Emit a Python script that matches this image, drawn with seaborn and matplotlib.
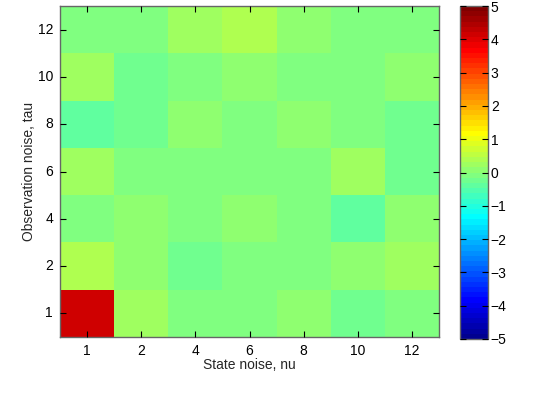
import numpy as np
import pandas as pd
import matplotlib
matplotlib.use("Agg")
import matplotlib.pyplot as plt
import seaborn as sns
from matplotlib.colors import ListedColormap

# ---- data ----
state_noise = [1, 2, 4, 6, 8, 10, 12]        # x (nu)
obs_noise = [1, 2, 4, 6, 8, 10, 12]          # y (tau), bottom -> top
row_tau1 = [4.14, 0.23, -0.08, -0.08, 0.08, -0.23, -0.08]
row_tau2 = [0.39, 0.08, -0.23, -0.08, -0.08, 0.08, 0.23]
row_tau4 = [-0.08, 0.08, -0.08, 0.08, -0.08, -0.39, 0.08]
row_tau6 = [0.23, -0.08, -0.08, -0.08, -0.08, 0.23, -0.23]
row_tau8 = [-0.39, -0.23, 0.08, -0.08, 0.08, -0.08, -0.23]
row_tau10 = [0.23, -0.23, -0.08, 0.08, -0.08, -0.08, 0.08]
row_tau12 = [-0.08, -0.08, 0.23, 0.39, 0.08, -0.08, -0.08]
cbar_ticks = [-5, -4, -3, -2, -1, 0, 1, 2, 3, 4, 5]


def matlab_jet(m=64):
    n = int(np.ceil(m / 4))
    u = np.concatenate([np.arange(1, n + 1) / n, np.ones(n - 1), np.arange(n, 0, -1) / n])
    g = int(np.ceil(n / 2)) - (1 if m % 4 == 1 else 0) + np.arange(1, len(u) + 1)
    r = g + n
    b = g - n
    g = g[g <= m]
    r = r[r <= m]
    b = b[b >= 1]
    J = np.zeros((m, 3))
    J[r - 1, 0] = u[:len(r)]
    J[g - 1, 1] = u[:len(g)]
    J[b - 1, 2] = u[len(u) - len(b):]
    return ListedColormap(J)


df = pd.DataFrame([row_tau1, row_tau2, row_tau4, row_tau6, row_tau8, row_tau10, row_tau12],
                  index=obs_noise, columns=state_noise)

sns.set_style("white")
plt.rcParams["font.family"] = ["Liberation Sans", "DejaVu Sans"]

fig = plt.figure(figsize=(5.52, 4.05), dpi=100)
W, H = 552, 405
ax = fig.add_axes([60 / W, (H - 337) / H, 379 / W, 331 / H])
cax = fig.add_axes([460 / W, (H - 339) / H, 28 / W, 333 / H])

sns.heatmap(df, ax=ax, cmap=matlab_jet(64), vmin=-5, vmax=5, cbar_ax=cax,
            cbar_kws={"ticks": cbar_ticks}, linewidths=0)
ax.invert_yaxis()
ax.set_axisbelow(False)
cax.set_axisbelow(False)

FS = 10
ax.set_xticklabels([str(v) for v in state_noise], rotation=0)
ax.set_yticklabels([str(v) for v in obs_noise], rotation=0)
ax.tick_params(direction="in", length=4, width=0.8, top=True, right=True,
               bottom=True, left=True, labelsize=FS, colors="black", pad=5)
for s in ax.spines.values():
    s.set_visible(True)
    s.set_color("0.4")
    s.set_linewidth(1.0)
ax.set_xlabel("State noise, nu", fontsize=FS, labelpad=0)
ax.set_ylabel("Observation noise, tau", fontsize=FS, labelpad=1)

cax.tick_params(direction="in", length=4, width=0.8, left=True, right=True,
                labelsize=FS, colors="black", pad=2)
cax.set_yticklabels([("\u2212" + str(-t)) if t < 0 else str(t) for t in cbar_ticks])
cb = ax.collections[0].colorbar
cb.outline.set_edgecolor("0.4")
cb.outline.set_linewidth(1.0)

fig.savefig("out.png", dpi=100)
